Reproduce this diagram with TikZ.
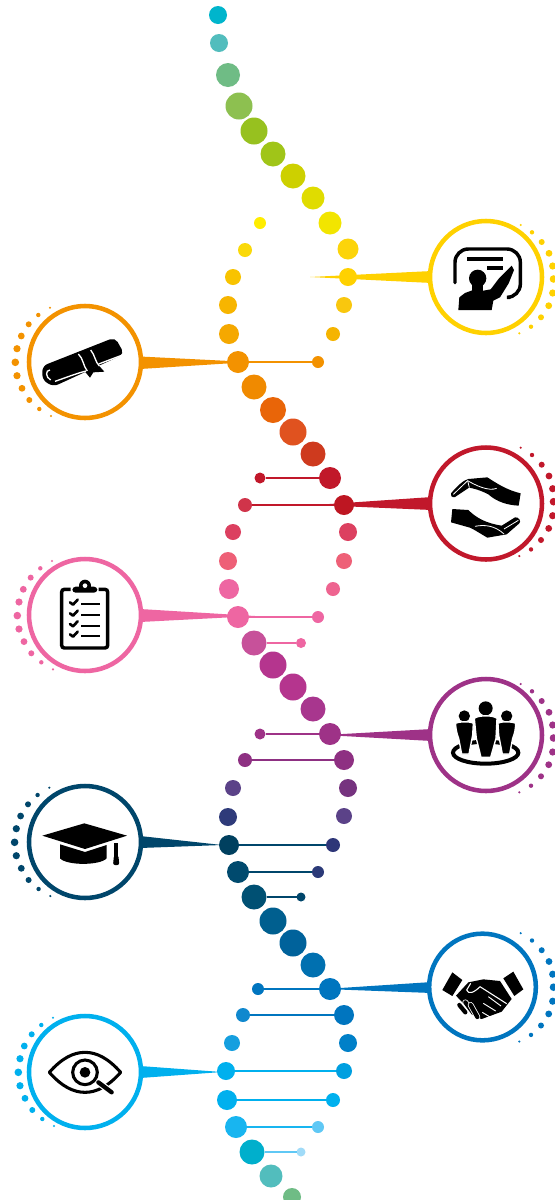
\documentclass[tikz,border=0pt]{standalone}
\definecolor{cYellow}{HTML}{FFD100}
\definecolor{cOrange}{HTML}{F39200}
\definecolor{cRed}{HTML}{C1182B}
\definecolor{cPink}{HTML}{EE66A2}
\definecolor{cPurple}{HTML}{9E3287}
\definecolor{cNavy}{HTML}{00466B}
\definecolor{cBlue}{HTML}{0075BF}
\definecolor{cCyan}{HTML}{00B0EE}
\tikzset{
  dotnode/.style={circle,inner sep=0pt,outer sep=0pt},
  ringnode/.style={circle,draw,fill=white,line width=3.4pt,minimum size=84pt,inner sep=0pt,outer sep=0pt},
  rungline/.style={line width=1.4pt},
  halo/.style={draw=white,line width=1pt,line join=round},
  iconline/.style={draw=black,line cap=round,line join=round}
}
\newcommand{\dnadot}[5]{\definecolor{tmpc}{HTML}{#5}\node[dotnode,fill=tmpc,minimum size=#4*1.5pt] (#1) at (#2,#3) {};}
\newcommand{\rungto}[3]{\definecolor{tmpc}{HTML}{#3}\draw[rungline,draw=tmpc] (#1) -- (#2);}
\newcommand{\arcright}[3]{\begin{scope}[shift={(#1,#2)}]
  \foreach \i/\a/\b/\r in {1/520.7/225/1.2,2/532/232.3/2.2,3/541.7/242/3,4/549/253.3/3.4,5/552.7/266/3.6,6/553.5/279/3.8,7/552.7/293/3.6,8/548.7/305.7/3.4,9/541/317.3/3,10/531/326.7/2.2,11/519.3/333.3/1.2}
    {\fill[#3] (\a,\b) circle[radius=\r];}
\end{scope}}
\newcommand{\arcleft}[3]{\begin{scope}[shift={(#1,#2)}]
  \foreach \i/\a/\b/\r in {1/50/307.7/1.2,2/38.3/315/2.2,3/28.7/324.3/3,4/21.3/336/3.4,5/17/348.7/3.6,6/15.3/362.3/3.8,7/17/375.7/3.6,8/22/388.3/3.4,9/29.3/400/3,10/39.3/409/2.2,11/51/416/1.2}
    {\fill[#3] (\a,\b) circle[radius=\r];}
\end{scope}}
\begin{document}
\begin{tikzpicture}[x=0.75pt,y=-0.75pt]
\useasboundingbox[fill=white] (0,0) rectangle (554,1200);

% spikes
\coordinate (tipY) at (310,277);
\coordinate (tipO) at (250,362);
\coordinate (tipR) at (315,505);
\coordinate (tipP) at (255,616);
\coordinate (tipU) at (325,735);
\coordinate (tipN) at (222,845);
\coordinate (tipB) at (325,989);
\coordinate (tipC) at (222,1072);
\fill[cYellow] (tipY) -- (432,271) -- (432,283) -- cycle;
\fill[cOrange] (tipO) -- (140,356.5) -- (140,369) -- cycle;
\fill[cRed] (tipR) -- (432,497) -- (432,510) -- cycle;
\fill[cPink] (tipP) -- (140,609) -- (140,622) -- cycle;
\fill[cPurple] (tipU) -- (432,729) -- (432,741) -- cycle;
\fill[cNavy] (tipN) -- (140,836) -- (140,848) -- cycle;
\fill[cBlue] (tipB) -- (432,982) -- (432,993) -- cycle;
\fill[cCyan] (tipC) -- (140,1066) -- (140,1078) -- cycle;

% strand A
\dnadot{a1}{218}{15}{9}{00B5CC}
\dnadot{a2}{219}{43}{9}{52BDBD}
\dnadot{a3}{228}{75}{12}{6FBC85}
\dnadot{a4}{239}{106}{13.5}{8DC050}
\dnadot{a5}{254}{131}{13.5}{97C11F}
\dnadot{a6}{273}{154}{12.5}{A0C518}
\dnadot{a7}{293}{176}{12.5}{CDD000}
\dnadot{a8}{313}{198}{11.5}{E0DC00}
\dnadot{a9}{330}{223}{11.5}{F2E500}
\dnadot{a10}{348}{249}{10.5}{FCD40A}
\dnadot{a11}{348}{277}{9}{FFD100}
\dnadot{a12}{344}{305}{8}{F9C70E}
\dnadot{a13}{333}{334}{7}{F5B400}
\dnadot{a14}{318}{362}{6}{F39200}
% strand B
\dnadot{b1}{260}{223}{6}{FFED00}
\dnadot{b2}{245}{250}{7}{FAD90A}
\dnadot{b3}{233}{277}{8}{F8C300}
\dnadot{b4}{228}{305}{9}{F7B500}
\dnadot{b5}{229}{334}{10}{F5A800}
\dnadot{b6}{238}{362}{11}{F39200}
\dnadot{b7}{254}{387}{12.5}{F08A00}
\dnadot{b8}{273}{410}{13}{E96508}
\dnadot{b9}{293}{432}{13.5}{E0521F}
\dnadot{b10}{313}{454}{12.5}{CE3A1E}
\dnadot{b11}{330}{478}{11}{C1182A}
\dnadot{b12}{344}{505}{10}{BE1622}
\dnadot{b13}{348}{532}{9}{DC4060}
\dnadot{b14}{344}{561}{8}{EE6077}
\dnadot{b15}{333}{589}{7}{EE6490}
\dnadot{b16}{318}{617}{6}{EE66A2}
\dnadot{b17}{301}{643}{5}{EE66A2}
% strand C
\dnadot{c1}{260}{478}{5.5}{C1182A}
\dnadot{c2}{245}{505}{7}{D0344A}
\dnadot{c3}{233}{532}{8}{DC4060}
\dnadot{c4}{228}{561}{9}{EE6077}
\dnadot{c5}{229}{589}{10}{EE66A2}
\dnadot{c6}{238}{617}{11}{EE66A2}
\dnadot{c7}{254}{643}{12.5}{C7519A}
\dnadot{c8}{273}{665}{13.5}{B5358E}
\dnadot{c9}{293}{687}{13.5}{B5358E}
\dnadot{c10}{313}{709}{12.5}{A8368E}
\dnadot{c11}{330}{734}{11}{9E3287}
\dnadot{c12}{344}{760}{10}{8E3082}
\dnadot{c13}{348}{788}{9}{76337F}
\dnadot{c14}{344}{816}{8}{5B4288}
\dnadot{c15}{333}{845}{7}{2E3678}
\dnadot{c16}{318}{872}{6}{2B3A78}
\dnadot{c17}{301}{897}{4.5}{00466B}
% strand D
\dnadot{d1}{260}{734}{5.5}{9E3287}
\dnadot{d2}{245}{760}{7}{8E3082}
\dnadot{d3}{233}{788}{8}{5B4288}
\dnadot{d4}{228}{817}{9}{2F3B7A}
\dnadot{d5}{229}{845}{10}{00405F}
\dnadot{d6}{238}{872}{11}{004A6E}
\dnadot{d7}{254}{897}{12.5}{005073}
\dnadot{d8}{273}{921}{13.5}{005F8F}
\dnadot{d9}{293}{943}{13.5}{00629B}
\dnadot{d10}{313}{965}{12.5}{0070B0}
\dnadot{d11}{330}{989}{11}{0075BF}
\dnadot{d12}{344}{1015}{10}{0075BF}
\dnadot{d13}{348}{1043}{9}{0080C8}
\dnadot{d14}{344}{1071}{8}{009FE0}
\dnadot{d15}{333}{1100}{7}{00B0EE}
\dnadot{d16}{318}{1127}{6}{5FC8F5}
\dnadot{d17}{301}{1152}{4.5}{A0DBF8}
% strand E
\dnadot{e1}{258}{989}{6}{0075BF}
\dnadot{e2}{243}{1015}{7}{1088CE}
\dnadot{e3}{232}{1043}{8}{159FDF}
\dnadot{e4}{226}{1071}{9}{00B0EE}
\dnadot{e5}{227}{1100}{10}{00B0EE}
\dnadot{e6}{236}{1127}{11}{18B5F0}
\dnadot{e7}{252}{1152}{12.5}{00AFCC}
\dnadot{e8}{271}{1176}{11.5}{52BDBD}
\dnadot{e9}{292}{1197}{9}{6FBC85}

% rungs
\rungto{b6}{a14}{F39200}
\rungto{c1}{b11}{C1182A}
\rungto{c2}{b12}{C1182A}
\rungto{c6}{b16}{EE66A2}
\rungto{c7}{b17}{EE66A2}
\rungto{d1}{c11}{9E3287}
\rungto{d2}{c12}{8E3082}
\rungto{d5}{c15}{00466B}
\rungto{d6}{c16}{00466B}
\rungto{d7}{c17}{00466B}
\rungto{e1}{d11}{0075BF}
\rungto{e2}{d12}{0075BF}
\rungto{e4}{d14}{00B0EE}
\rungto{e5}{d15}{00B0EE}
\rungto{e6}{d16}{18B5F0}
\rungto{e7}{d17}{5FC8F5}

% rings
\node[ringnode,draw=cYellow] (ringY) at (486,277) {};
\node[ringnode,draw=cOrange] (ringO) at (85,362) {};
\node[ringnode,draw=cRed] (ringR) at (486,503.5) {};
\node[ringnode,draw=cPink] (ringP) at (85,615) {};
\node[ringnode,draw=cPurple] (ringU) at (486,735) {};
\node[ringnode,draw=cNavy] (ringN) at (85,842) {};
\node[ringnode,draw=cBlue,minimum size=80pt] (ringB) at (482.5,987) {};
\node[ringnode,draw=cCyan] (ringC) at (85,1072) {};

% dotted arcs
\arcright{0}{0}{cYellow}
\arcright{0}{222.7}{cRed}
\arcright{0}{459}{cPurple}
\arcright{0}{708.2}{cBlue}
\arcleft{0}{0}{cOrange}
\arcleft{2}{253.3}{cPink}
\arcleft{-0.7}{480}{cNavy}
\arcleft{3}{710}{cCyan}

% teacher icon
\begin{scope}[shift={(400,200)},x=0.25pt,y=-0.25pt]
  \draw[line width=2.6pt,line cap=round,rounded corners=10pt] (165,248) -- (165,147) -- (361,147) -- (361,292) -- (330,292);
  \fill (200,171) rectangle (310,182);
  \fill (262,198) rectangle (310,209);
  \fill (233,235) circle[radius=26];
  \fill (216,250) rectangle (250,280);
  \fill (175,330) -- (178,292) -- (195,279) -- (225,268) -- (250,272) -- (272,268) -- (297,235) -- (325,207) -- (335,197) -- (342,210) -- (326,250) -- (300,292) -- (280,302) -- (275,330) -- cycle;
\end{scope}

% diploma icon
\begin{scope}[shift={(0,290)},x=0.25pt,y=-0.25pt]
  \fill[rounded corners=4pt] (127,228) -- (345,142) -- (373,192) -- (160,290) -- (127,270) -- cycle;
  \fill (255,245) -- (270,263) -- (280,247) -- (313,245) -- (296,226) -- cycle;
  \draw[white,line width=1pt] (165,274) .. controls (200,262) and (230,250) .. (258,243);
  \draw[white,line width=1pt] (296,222) -- (370,194);
  \draw[white,line width=1pt] (235,192) .. controls (250,205) and (250,230) .. (262,243);
  \draw[white,line width=1pt] (272,180) .. controls (285,195) and (285,215) .. (298,228);
  \draw[white,line width=1pt] (150,240) .. controls (136,240) and (136,262) .. (152,270);
\end{scope}

% hands icon
\begin{scope}[shift={(400,435)},x=0.25pt,y=-0.25pt]
  \fill[line join=round] (153,175) .. controls (170,155) and (190,135) .. (205,132) -- (262,127) .. controls (290,145) and (320,165) .. (362,175) -- (356,212) .. controls (320,210) and (290,200) .. (265,178) .. controls (240,165) and (220,160) .. (207,158) -- (165,186) .. controls (155,188) and (150,182) .. (153,175) -- cycle;
  \draw[white,line width=0.6pt] (160,178) -- (203,137) .. controls (225,150) and (265,170) .. (290,160);
  \draw[white,line width=0.6pt] (203,137) -- (208,158);
  \fill[line join=round] (157,222) -- (205,225) .. controls (230,250) and (260,265) .. (305,272) -- (345,247) .. controls (355,245) and (365,258) .. (358,265) -- (320,298) -- (262,308) .. controls (240,295) and (225,285) .. (210,278) -- (153,262) -- cycle;
  \draw[white,line width=0.6pt] (225,274) .. controls (255,268) and (285,272) .. (312,297);
  \draw[white,line width=0.6pt] (312,282) -- (355,256);
\end{scope}

% clipboard icon
\begin{scope}[shift={(0,545)},x=0.25pt,y=-0.25pt]
  \draw[line width=2.6pt,rounded corners=2pt] (212,133) -- (185,133) -- (185,309) -- (323,309) -- (323,133) -- (296,133);
  \fill[rounded corners=2.5pt] (217,143) -- (217,125) -- (292,125) -- (292,143) -- cycle;
  \fill (255,122) circle[radius=18];
  \fill[white] (255,122) circle[radius=7];
  \foreach \y in {172,205,237,268} {
    \draw[iconline,line width=2pt] (210,\y) -- (219,\y+7) -- (233,\y-8);
  }
  \foreach \y in {176,209,242,274} {
    \draw[line width=1.7pt] (244,\y) -- (300,\y);
  }
\end{scope}

% people icon
\begin{scope}[shift={(400,670)},x=0.25pt,y=-0.25pt]
  \draw[line width=3pt] (257,248) ellipse[x radius=98,y radius=33];
  \fill (257,115) circle[radius=21];
  \fill (193,138) circle[radius=17];
  \fill (320,138) circle[radius=17];
  \filldraw[halo,fill=black] (167,160) .. controls (175,155) and (210,153) .. (220,160) -- (218,195) -- (207,252) -- (185,252) -- (176,205) .. controls (170,190) and (167,175) .. (167,160) -- cycle;
  \filldraw[halo,fill=black] (347,160) .. controls (339,155) and (304,153) .. (294,160) -- (296,195) -- (307,252) -- (329,252) -- (338,205) .. controls (344,190) and (347,175) .. (347,160) -- cycle;
  \filldraw[halo,fill=black] (223,145) .. controls (235,135) and (280,135) .. (291,145) -- (288,205) -- (272,262) -- (243,262) -- (229,205) -- cycle;
\end{scope}

% cap icon
\begin{scope}[shift={(0,775)},x=0.25pt,y=-0.25pt]
  \fill (127,182) -- (253,145) -- (381,182) -- (255,222) -- cycle;
  \fill (180,208) -- (255,231) -- (320,210) -- (320,250) .. controls (300,272) and (200,272) .. (180,250) -- cycle;
  \fill (343,203) rectangle (354,245);
  \fill[rounded corners=1.5pt] (342,240) -- (355,240) -- (358,270) -- (339,270) -- cycle;
\end{scope}

% handshake icon
\begin{scope}[shift={(400,925)},x=0.25pt,y=-0.25pt]
  \fill (127,195) -- (157,142) -- (187,165) -- (157,213) -- cycle;
  \fill (310,160) -- (340,140) -- (370,193) -- (343,213) -- cycle;
  \fill (168,212) -- (205,172) -- (250,163) -- (300,168) -- (335,222) -- (305,260) -- (245,282) -- (225,275) -- (190,235) -- cycle;
  \draw[white,line width=0.8pt,line join=round] (212,175) -- (200,195) .. controls (205,208) and (220,205) .. (240,185) -- (320,236);
  \draw[white,line width=0.7pt] (265,215) -- (303,243);
  \draw[white,line width=0.7pt] (250,235) -- (287,258);
  \draw[white,line width=0.7pt] (247,262) -- (270,276);
  \foreach \a/\b/\c/\d in {178/240/196/262,196/232/220/264,212/240/232/276} {
    \draw[white,line width=4.4pt,line cap=round] (\a,\b) -- (\c,\d);
    \draw[line width=3.2pt,line cap=round] (\a,\b) -- (\c,\d);
  }
\end{scope}

% eye icon
\begin{scope}[shift={(0,1005)},x=0.25pt,y=-0.25pt]
  \draw[line width=2.3pt,line join=round] (148,202) .. controls (185,160) and (220,142) .. (255,142) .. controls (290,142) and (325,160) .. (362,202) .. controls (325,244) and (290,262) .. (255,262) .. controls (220,262) and (185,244) .. (148,202) -- cycle;
  \fill[white] (255,202) circle[radius=45];
  \draw[white,line width=5pt] (295,232) -- (335,262);
  \draw[line width=2.3pt] (255,202) circle[radius=37];
  \fill (255,202) circle[radius=16];
  \draw[line width=3.2pt,line cap=round] (295,232) -- (335,262);
\end{scope}
\end{tikzpicture}
\end{document}
